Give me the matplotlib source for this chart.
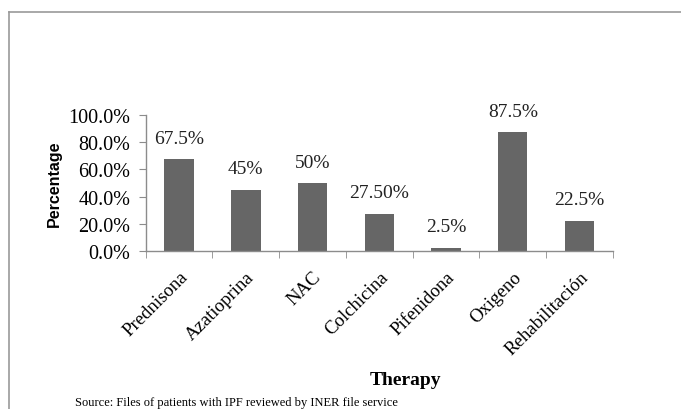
import numpy as np
import matplotlib
matplotlib.use("Agg")
import matplotlib.pyplot as plt
from matplotlib.lines import Line2D
from matplotlib.ticker import FuncFormatter

therapies = ["Prednisona", "Azatioprina", "NAC", "Colchicina",
             "Pifenidona", "Oxigeno", "Rehabilitación"]
percent = [67.5, 45, 50, 27.5, 2.5, 87.5, 22.5]
bar_labels = ["67.5%", "45%", "50%", "27.50%", "2.5%", "87.5%", "22.5%"]
y_ticks = [0, 20, 40, 60, 80, 100]

SERIF = "Liberation Serif"
BAR_COLOR = "#666666"
AXIS_COLOR = "#8c8c8c"

fig = plt.figure(figsize=(6.81, 4.10), dpi=100)
ax = fig.add_axes([0.214, 0.385, 0.686, 0.332])

x = np.arange(len(therapies))
ax.bar(x, percent, width=0.44, color=BAR_COLOR, zorder=2)

for xi, v, lab in zip(x, percent, bar_labels):
    ax.annotate(lab, (xi, v), xytext=(0, 9), textcoords="offset points",
                ha="center", va="bottom", fontsize=14, family=SERIF,
                color="#222222")

ax.set_xlim(-0.5, len(therapies) - 0.5)
ax.set_ylim(0, 100)
ax.set_yticks(y_ticks)
ax.yaxis.set_major_formatter(FuncFormatter(lambda v, p: f"{v:.1f}%"))

ax.set_xticks(x)
ax.set_xticklabels(therapies, rotation=45, ha="right", rotation_mode="anchor",
                   family=SERIF, fontsize=13.5)
ax.set_xticks(np.arange(len(therapies) + 1) - 0.5, minor=True)
ax.tick_params(axis="x", which="major", length=0, pad=12)
ax.tick_params(axis="x", which="minor", length=5, color=AXIS_COLOR, direction="out")
ax.tick_params(axis="y", length=5, color=AXIS_COLOR, direction="out",
               labelsize=14.5, pad=6)
for t in ax.get_yticklabels():
    t.set_family(SERIF)

for s in ["top", "right"]:
    ax.spines[s].set_visible(False)
for s in ["left", "bottom"]:
    ax.spines[s].set_color(AXIS_COLOR)
    ax.spines[s].set_linewidth(1.0)

ax.set_ylabel("Percentage", family="Liberation Sans", fontweight="bold",
              fontsize=11.5, labelpad=5)
fig.text(0.595, 0.073, "Therapy", family=SERIF, fontweight="bold",
         fontsize=14, ha="center", va="center")
fig.text(0.11, 0.018, "Source: Files of patients with IPF reviewed by INER file service",
         family=SERIF, fontsize=9, ha="left", va="center")

# outer frame (cut off at right and bottom)
fig.add_artist(Line2D([9 / 681, 9 / 681], [0, 1 - 13 / 410], color="#999999", lw=1.2))
fig.add_artist(Line2D([9 / 681, 1], [1 - 13 / 410, 1 - 13 / 410], color="#999999", lw=1.2))

fig.savefig("out.png", dpi=100)
